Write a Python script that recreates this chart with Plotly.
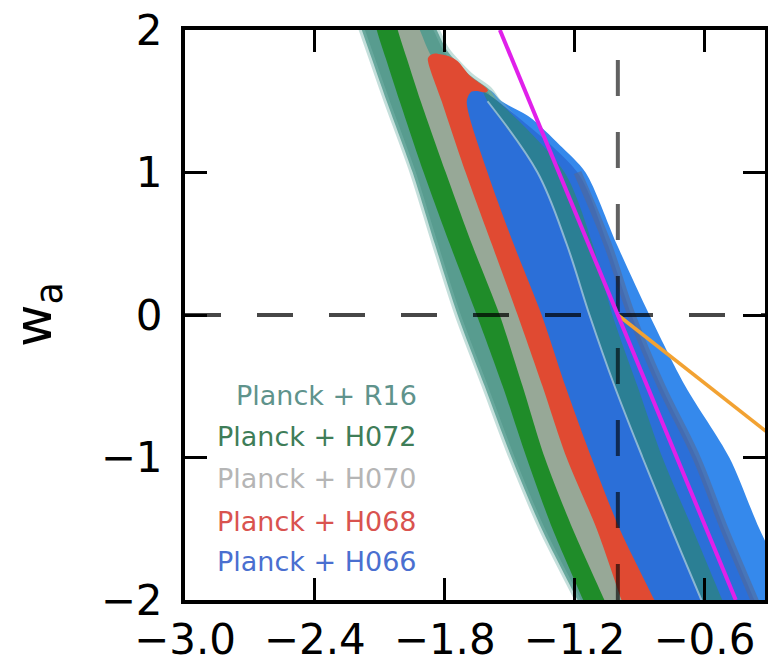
import plotly.graph_objects as go

# ---------------- data ----------------
# common w_a grid for the left (lower-w0) boundaries (first/last rows lie just outside the frame)
wa_grid = [2.3, 2.0, 1.8, 1.5, 1.0, 0.5, 0.0, -0.5, -1.0, -1.5, -2.0, -2.3]
r16_left = [-2.25, -2.183, -2.137, -2.068, -1.948, -1.846, -1.740, -1.615, -1.491, -1.352, -1.186, -1.086]
h072_left = [-2.156, -2.114, -2.072, -2.008, -1.897, -1.777, -1.652, -1.532, -1.422, -1.302, -1.160, -1.076]
h070_left = [-2.065, -2.017, -1.975, -1.911, -1.795, -1.675, -1.546, -1.440, -1.338, -1.209, -1.062, -0.974]
h068_left = [-1.878, -1.814, -1.703, -1.583, -1.463, -1.348, -1.237, -1.098, -0.983, -0.914]  # wa_grid[2:]
h066_left = [-1.698, -1.602, -1.482, -1.352, -1.242, -1.122, -0.992, -0.831, -0.734]          # wa_grid[3:]

# upper-right envelope of the whole stack
env_wa = [2.3, 2.0, 1.86, 1.684, 1.579, 1.5, 1.389, 1.193, 1.0, 0.5, 0.0, -0.5, -1.0, -1.5, -2.0, -2.3]
env_w0 = [-1.935, -1.837, -1.791, -1.685, -1.592, -1.537, -1.408, -1.269, -1.149, -1.006, -0.854,
          -0.688, -0.485, -0.346, -0.185, -0.10]

# inner right-side boundaries (on wa_grid[3:])
inner_line = [-1.602, -1.371, -1.237, -1.131, -1.015, -0.886, -0.752, -0.614, -0.531]
r16_right = [-1.555, -1.246, -1.117, -1.025, -0.909, -0.794, -0.655, -0.517, -0.434]
h066_inner_right = [-1.186, -1.048, -0.937, -0.799, -0.637, -0.508, -0.369, -0.286]  # wa_grid[4:]

red_cap_w0 = [-1.865, -1.845, -1.815]
red_cap_wa = [1.825, 1.835, 1.828]
blue_apex = (-1.675, 1.568)
band_tip = (-1.62, 1.562)

magenta_w0 = [-1.545, -0.455]
magenta_wa = [2.0, -2.0]
orange_w0 = [-1.0, -0.30]
orange_wa = [0.0, -0.835]

labels = ["Planck + R16", "Planck + H072", "Planck + H070", "Planck + H068", "Planck + H066"]
label_colors = ["#5f938c", "#3f7d58", "#b5b5b5", "#d9534f", "#4a6fd0"]
label_wa = [-0.565, -0.855, -1.150, -1.452, -1.733]

xticks = [-3.0, -2.4, -1.8, -1.2, -0.6]
yticks = [-2, -1, 0, 1, 2]

# ---------------- colours ----------------
C_TEAL = "#589c8f"
C_GREEN = "#1f8c29"
C_GRAY = "#97a897"
C_RED = "#e04a32"
C_BLUE = "#2b6fd8"
C_BRIGHT = "#3589ec"
C_BAND = "#2b7f94"

fig = go.Figure()


def poly(xs, ys, color, line=None):
    ln = dict(width=0, color=color)
    if line:
        ln.update(line)
    ln.update(shape="spline", smoothing=0.8)
    fig.add_trace(go.Scatter(
        x=xs + [xs[0]], y=ys + [ys[0]], mode="lines", fill="toself",
        fillcolor=color, line=ln, hoverinfo="skip", showlegend=False))


Y2 = wa_grid[2:]
Y3 = wa_grid[3:]
Y4 = wa_grid[4:]

# bright outer blue (H066 outer)
xs = [blue_apex[0]] + env_w0[4:] + h066_left[::-1]
ys = [blue_apex[1]] + env_wa[4:] + Y3[::-1]
poly(xs, ys, C_BRIGHT)

# R16 teal
xs = r16_left + r16_right[::-1] + env_w0[4::-1]
ys = wa_grid + Y3[::-1] + env_wa[4::-1]
poly(xs, ys, C_TEAL, dict(width=6, color="rgba(125,185,175,0.45)"))

# H072 green
g_right = [v + 0.04 for v in h070_left]
poly(h072_left + g_right[::-1], wa_grid + wa_grid[::-1], C_GREEN)

# H070 gray
gr_right = [v + 0.04 for v in h068_left]
xs = h070_left + gr_right[::-1] + [-1.862, -1.915, -2.0]
ys = wa_grid + Y2[::-1] + [1.82, 2.0, 2.3]
poly(xs, ys, C_GRAY)

# H068 red
r_right = [v + 0.05 for v in h066_left]
xs = red_cap_w0 + [-1.78, -1.74, -1.685, -1.60, -1.63] + r_right + h068_left[::-1]
ys = red_cap_wa + [1.815, 1.78, 1.68, 1.575, 1.545] + Y3 + Y2[::-1]
poly(xs, ys, C_RED)

# H066 blue
xs = [blue_apex[0]] + h066_left + h066_inner_right[::-1] + [r16_right[0], band_tip[0]]
ys = [blue_apex[1]] + Y3 + Y4[::-1] + [Y3[0], band_tip[1]]
poly(xs, ys, C_BLUE)

# teal band inside blue
xs = [band_tip[0]] + inner_line + r16_right[::-1]
ys = [band_tip[1]] + Y3 + Y3[::-1]
poly(xs, ys, C_BAND)

# thin light line and darker inner edge
fig.add_trace(go.Scatter(x=inner_line, y=Y3, mode="lines",
                         line=dict(color="rgba(150,190,215,0.9)", width=2, shape="spline"),
                         hoverinfo="skip", showlegend=False))
fig.add_trace(go.Scatter(x=h066_inner_right, y=Y4, mode="lines",
                         line=dict(color="rgba(85,105,150,0.6)", width=8, shape="spline"),
                         hoverinfo="skip", showlegend=False))

# dashed reference lines
fig.add_trace(go.Scatter(x=[-3.0, -0.3], y=[0, 0], mode="lines",
                         line=dict(color="rgba(0,0,0,0.72)", width=4, dash="36px,36px"),
                         hoverinfo="skip", showlegend=False))
fig.add_trace(go.Scatter(x=[-1.0, -1.0], y=[-2.0, 2.0], mode="lines",
                         line=dict(color="rgba(0,0,0,0.62)", width=4, dash="36px,36px"),
                         hoverinfo="skip", showlegend=False))

# orange and magenta lines
fig.add_trace(go.Scatter(x=orange_w0, y=orange_wa, mode="lines",
                         line=dict(color="#f2a232", width=3.5), hoverinfo="skip", showlegend=False))
fig.add_trace(go.Scatter(x=magenta_w0, y=magenta_wa, mode="lines",
                         line=dict(color="#e020ea", width=4), hoverinfo="skip", showlegend=False))

# coloured text legend
for t, c, y in zip(labels, label_colors, label_wa):
    fig.add_annotation(x=-1.918, y=y, xref="x", yref="y", text=t, showarrow=False,
                       xanchor="right", yanchor="middle",
                       font=dict(family="DejaVu Sans", size=27, color=c))

# y-axis label
fig.add_annotation(x=-0.255, y=0.5, xref="paper", yref="paper", text="w<sub>a</sub>",
                   showarrow=False, textangle=-90, xanchor="center", yanchor="middle",
                   font=dict(family="DejaVu Sans", size=52, color="black"))

axis_common = dict(showline=True, linewidth=4, linecolor="black", mirror="ticks",
                   ticks="inside", ticklen=22, tickwidth=3, tickcolor="black",
                   showgrid=False, zeroline=False, automargin=False,
                   tickfont=dict(family="DejaVu Sans", size=42, color="black"))

fig.update_layout(
    width=768, height=663,
    margin=dict(l=185, r=3, t=30, b=63),
    paper_bgcolor="white", plot_bgcolor="white",
    showlegend=False,
    xaxis=dict(range=[-3.0, -0.32], tickvals=xticks, tickformat=".1f",
               ticklabelstandoff=0, **axis_common),
    yaxis=dict(range=[-2.0, 2.0], tickvals=yticks, tickformat="d",
               ticklabelstandoff=10, **axis_common),
)

fig.write_html("out.html")
